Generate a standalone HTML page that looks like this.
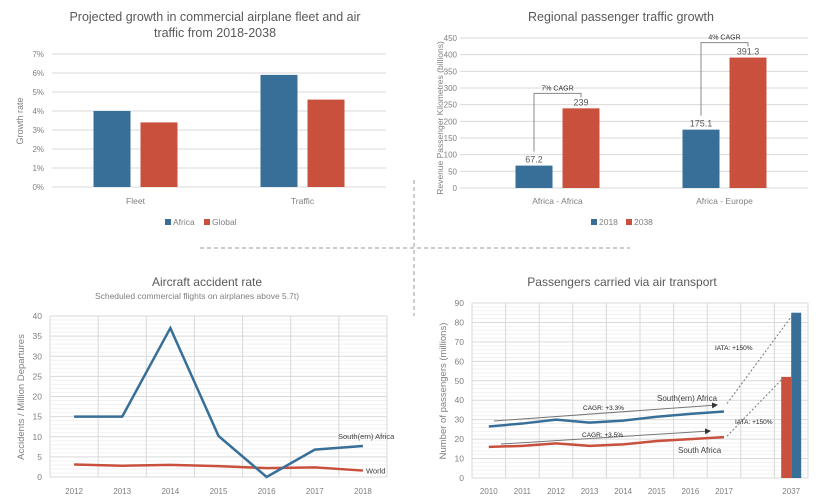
<!DOCTYPE html>
<html><head><meta charset="utf-8"><style>
html,body{margin:0;padding:0;background:#fff;}
svg{display:block;font-family:"Liberation Sans",sans-serif;}
</style></head><body>
<svg id="s" width="820" height="504" viewBox="0 0 820 504">
<g>
<line x1="200" y1="248" x2="630" y2="248" stroke="#999" stroke-dasharray="4,3"/>
<line x1="414" y1="180" x2="414" y2="316" stroke="#999" stroke-dasharray="4,3"/>
</g>
</svg>
<script>
// Chart 1
const c1Cats=["Fleet","Traffic"];
const c1Africa=[4.0,5.9];
const c1Global=[3.4,4.6];
const c1Ticks=[0,1,2,3,4,5,6,7];
// Chart 2
const c2Cats=["Africa - Africa","Africa - Europe"];
const c2Y2018=[67.2,175.1];
const c2Y2038=[239,391.3];
const c2Ticks=[0,50,100,150,200,250,300,350,400,450];
const c2Cagr=["7% CAGR","4% CAGR"];
// Chart 3
const c3Years=["2012","2013","2014","2015","2016","2017","2018"];
const c3South=[15,15,37,10.2,0,6.8,7.7];
const c3World=[3.1,2.8,3.0,2.7,2.2,2.4,1.6];
const c3Ticks=[0,5,10,15,20,25,30,35,40];
// Chart 4
const c4Years=["2010","2011","2012","2013","2014","2015","2016","2017","","2037"];
const c4Southern=[26.5,28,30,28.5,29.5,31.5,33,34.2];
const c4SA=[16,16.5,17.8,16.5,17.3,19,20,21];
const c4Bar2037SA=[52];
const c4Bar2037Southern=[85];
const c4Ticks=[0,10,20,30,40,50,60,70,80,90];

const BLUE="#386f99",RED="#c9503d",GRID="#d9d9d9",TXT="#7f7f7f";
const S=document.getElementById('s');
function el(tag,attrs,parent){const e=document.createElementNS("http://www.w3.org/2000/svg",tag);for(const k in attrs)e.setAttribute(k,attrs[k]);(parent||S).appendChild(e);return e;}
function txt(x,y,t,size,fill,anchor,parent,extra){const e=el("text",Object.assign({x:x,y:y,"font-size":size,fill:fill,"text-anchor":anchor||"middle"},extra||{}),parent);e.textContent=t;return e;}

// ---------- Chart 1 ----------
(function(){
const g=el("g",{});


const x0=52,x1=386,yb=187,yt=54,max=7;
const y=v=>yb-(v/max)*(yb-yt);
const cw=(x1-x0)/c1Cats.length;
const t1=txt(215,21,"Projected growth in commercial airplane fleet and air",12.5,"#595959","middle",g);

const t2=txt(215,37,"traffic from 2018-2038",12.5,"#595959","middle",g);

c1Ticks.forEach(v=>{const l=el("line",{x1:x0,x2:x1,y1:y(v),y2:y(v),stroke:GRID},g);
const t=txt(44,y(v)+3,v+"%",8,TXT,"end",g);});
const yl=txt(0,0,"Growth rate",9,TXT,"middle",g,{transform:"translate(23,121) rotate(-90)"});

c1Cats.forEach((c,i)=>{const cx=x0+cw*(i+0.5);
const b1=el("rect",{x:cx-42,y:y(c1Africa[i]),width:37,height:yb-y(c1Africa[i]),fill:BLUE},g);

const b2=el("rect",{x:cx+5,y:y(c1Global[i]),width:37,height:yb-y(c1Global[i]),fill:RED},g);

const t=txt(cx,204,c,8.5,TXT,"middle",g);});
const lg=el("g",{},g);
el("rect",{x:165,y:219,width:6,height:6,fill:BLUE},lg);txt(173,225,"Africa",8.5,TXT,"start",lg);
el("rect",{x:204,y:219,width:6,height:6,fill:RED},lg);txt(212,225,"Global",8.5,TXT,"start",lg);
})();

// ---------- Chart 2 ----------
(function(){
const g=el("g",{});


const gx0=460,x0=474,x1=808,yb=188,yt=38,max=450;
const y=v=>yb-(v/max)*(yb-yt);
const cw=(x1-x0)/c2Cats.length;
const t=txt(621,21,"Regional passenger traffic growth",12.5,"#595959","middle",g);

c2Ticks.forEach(v=>{const l=el("line",{x1:gx0,x2:x1,y1:y(v),y2:y(v),stroke:GRID},g);
const tt=txt(457,y(v)+3,String(v),8,TXT,"end",g);});
const yl=txt(0,0,"Revenue Passenger Kilometres (billions)",8.5,TXT,"middle",g,{transform:"translate(443,118) rotate(-90)"});

c2Cats.forEach((c,i)=>{const cx=x0+cw*(i+0.5);
const a=cx-42,b=cx+5;
const b1=el("rect",{x:a,y:y(c2Y2018[i]),width:37,height:yb-y(c2Y2018[i]),fill:BLUE},g);

const b2=el("rect",{x:b,y:y(c2Y2038[i]),width:37,height:yb-y(c2Y2038[i]),fill:RED},g);

const l1=txt(a+18.5,y(c2Y2018[i])-3,String(c2Y2018[i]),9,"#595959","middle",g);
const l2=txt(b+18.5,y(c2Y2038[i])-3,String(c2Y2038[i]),9,"#595959","middle",g);
const top=y(c2Y2038[i])-15;
const br=el("path",{d:`M${a+18.5} ${y(c2Y2018[i])-14} V${top} H${b+18.5} V${y(c2Y2038[i])-11}`,stroke:"#888",fill:"none","stroke-width":1},g);

const ct=txt((a+b+37)/2,top-3,c2Cagr[i],7,"#333","middle",g);
const xt=txt(cx,204,c,8.5,TXT,"middle",g);});
const lg=el("g",{},g);
el("rect",{x:591,y:219,width:6,height:6,fill:BLUE},lg);txt(599,225,"2018",8.5,TXT,"start",lg);
el("rect",{x:626,y:219,width:6,height:6,fill:RED},lg);txt(634,225,"2038",8.5,TXT,"start",lg);
})();

// ---------- Chart 3 ----------
(function(){
const g=el("g",{});


const x0=50,x1=387,yb=477,yt=316,max=40;
const y=v=>yb-(v/max)*(yb-yt);
const cw=(x1-x0)/c3Years.length;
const xc=i=>x0+cw*(i+0.5);
const t=txt(207,286,"Aircraft accident rate",12,"#595959","middle",g);
const st=txt(197,299,"Scheduled commercial flights on airplanes above 5.7t)",8.5,TXT,"middle",g);
for(let v=0;v<=max;v++){const l=el("line",{x1:x0,x2:x1,y1:y(v),y2:y(v),stroke:v%5==0?GRID:"#f2f2f2"},g);}
for(let i=0;i<=c3Years.length;i++){const l=el("line",{x1:x0+cw*i,x2:x0+cw*i,y1:yt,y2:yb,stroke:GRID},g);}
c3Ticks.forEach(v=>{const tt=txt(42,y(v)+3,String(v),8.5,TXT,"end",g);});
c3Years.forEach((yr,i)=>{const tt=txt(xc(i),494,yr,8,TXT,"middle",g);});
const yl=txt(0,0,"Accidents / Million Departures",9.5,TXT,"middle",g,{transform:"translate(24,397) rotate(-90)"});
const pw=el("polyline",{points:c3World.map((v,i)=>xc(i)+","+y(v)).join(" "),fill:"none",stroke:RED,"stroke-width":2.5},g);

const ps=el("polyline",{points:c3South.map((v,i)=>xc(i)+","+y(v)).join(" "),fill:"none",stroke:BLUE,"stroke-width":2.5},g);

const n=c3Years.length-1;
const l1=txt(338,439,"South(ern) Africa",7.5,"#404040","start",g);
const l2=txt(366,y(c3World[n])+3,"World",7.5,"#404040","start",g);
})();

// ---------- Chart 4 ----------
(function(){
const g=el("g",{});


const x0=472,x1=808,yb=478,yt=303,max=90;
const y=v=>yb-(v/max)*(yb-yt);
const cw=(x1-x0)/c4Years.length;
const xc=i=>x0+cw*(i+0.5);
const t=txt(622,286,"Passengers carried via air transport",12,"#595959","middle",g);
for(let v=0;v<=max;v+=2){const l=el("line",{x1:x0,x2:x1,y1:y(v),y2:y(v),stroke:v%10==0?GRID:"#f2f2f2"},g);}
for(let i=0;i<=c4Years.length;i++){const l=el("line",{x1:x0+cw*i,x2:x0+cw*i,y1:yt,y2:yb,stroke:GRID},g);}
c4Ticks.forEach(v=>{const tt=txt(464,y(v)+3,String(v),8.5,TXT,"end",g);});
c4Years.forEach((yr,i)=>{if(!yr)return;const tt=txt(xc(i),494,yr,8,TXT,"middle",g);});
const yl=txt(0,0,"Number of passengers (millions)",9.5,TXT,"middle",g,{transform:"translate(446,391) rotate(-90)"});
const bi=c4Years.length-1,bc=xc(bi);
const r1=el("rect",{x:bc-10,y:y(c4Bar2037SA[0]),width:10,height:yb-y(c4Bar2037SA[0]),fill:RED},g);
const r2=el("rect",{x:bc,y:y(c4Bar2037Southern[0]),width:10,height:yb-y(c4Bar2037Southern[0]),fill:BLUE},g);
const last=c4Southern.length-1;
const d1=el("line",{x1:xc(last)+3,y1:y(c4Southern[last])-8,x2:bc+3,y2:y(c4Bar2037Southern[0]),stroke:"#777","stroke-dasharray":"2,2"},g);
const d2=el("line",{x1:xc(last)+3,y1:y(c4SA[last])-1,x2:bc-7,y2:y(c4Bar2037SA[0]),stroke:"#777","stroke-dasharray":"2,2"},g);
const ps=el("polyline",{points:c4Southern.map((v,i)=>xc(i)+","+y(v)).join(" "),fill:"none",stroke:BLUE,"stroke-width":2.5},g);
const pa=el("polyline",{points:c4SA.map((v,i)=>xc(i)+","+y(v)).join(" "),fill:"none",stroke:RED,"stroke-width":2.5},g);
const defs=el("defs",{},g);const m=el("marker",{id:"ar",markerWidth:6,markerHeight:6,refX:5,refY:3,orient:"auto"},defs);el("path",{d:"M0,0 L6,3 L0,6 z",fill:"#333"},m);
const a1=el("line",{x1:494,y1:421,x2:717,y2:405,stroke:"#777","marker-end":"url(#ar)"},g);
const a2=el("line",{x1:501,y1:444,x2:710,y2:431,stroke:"#777","marker-end":"url(#ar)"},g);
[[583,410,"CAGR: +3.3%"],[582,437,"CAGR: +3.5%"],[715,350,"IATA: +150%"],[735,424,"IATA: +150%"]].forEach(a=>{const tt=txt(a[0],a[1],a[2],6.5,"#222","start",g);});
const l1=txt(657,401,"South(ern) Africa",8,"#404040","start",g);
const l2=txt(678,453,"South Africa",8,"#404040","start",g);
})();
</script>
</body></html>
